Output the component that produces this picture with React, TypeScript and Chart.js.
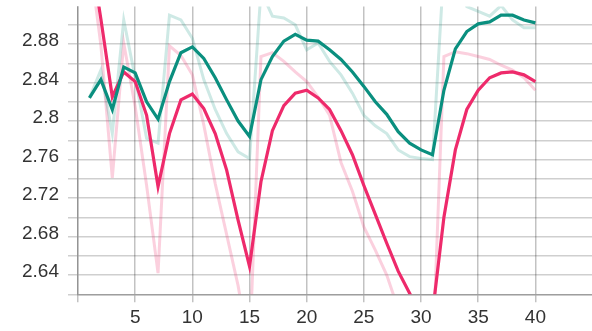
import React, { useEffect, useRef } from "react";
import { Chart, registerables } from "chart.js";

Chart.register(...registerables);

const steps = [1, 2, 3, 4, 5, 6, 7, 8, 9, 10, 11, 12, 13, 14, 15, 16, 17, 18, 19, 20, 21, 22, 23, 24, 25, 26, 27, 28, 29, 30, 31, 32, 33, 34, 35, 36, 37, 38, 39, 40];

const tealSmooth = [2.824, 2.843, 2.812, 2.856, 2.850, 2.820, 2.802, 2.841, 2.871, 2.877, 2.865, 2.845, 2.822, 2.800, 2.784, 2.843, 2.867, 2.883, 2.890, 2.884, 2.883, 2.874, 2.864, 2.851, 2.836, 2.820, 2.807, 2.789, 2.777, 2.770, 2.765, 2.832, 2.875, 2.893, 2.901, 2.903, 2.910, 2.910, 2.905, 2.902];
const tealRaw = [2.824, 2.853, 2.787, 2.905, 2.845, 2.782, 2.777, 2.910, 2.905, 2.886, 2.843, 2.812, 2.787, 2.768, 2.761, 2.935, 2.909, 2.907, 2.900, 2.874, 2.881, 2.862, 2.848, 2.829, 2.806, 2.795, 2.787, 2.770, 2.763, 2.761, 2.760, 2.960, 2.950, 2.919, 2.914, 2.909, 2.920, 2.905, 2.897, 2.897];
const pinkSmooth = [2.982, 2.906, 2.825, 2.851, 2.841, 2.806, 2.732, 2.787, 2.822, 2.828, 2.813, 2.787, 2.749, 2.697, 2.649, 2.737, 2.790, 2.816, 2.829, 2.832, 2.824, 2.812, 2.790, 2.765, 2.733, 2.703, 2.673, 2.644, 2.621, 2.598, 2.600, 2.700, 2.770, 2.812, 2.832, 2.845, 2.850, 2.851, 2.848, 2.841];
const pinkRaw = [2.970, 2.879, 2.741, 2.881, 2.815, 2.733, 2.642, 2.878, 2.868, 2.848, 2.796, 2.735, 2.682, 2.629, 2.560, 2.867, 2.871, 2.862, 2.851, 2.841, 2.825, 2.806, 2.757, 2.727, 2.690, 2.666, 2.640, 2.605, 2.580, 2.560, 2.550, 2.867, 2.872, 2.870, 2.867, 2.864, 2.858, 2.853, 2.845, 2.832];

const xTickValues = [0, 5, 10, 15, 20, 25, 30, 35, 40];
const xTickLabels = ["", "5", "10", "15", "20", "25", "30", "35", "40"];
const yTickValues = [2.62, 2.64, 2.66, 2.68, 2.70, 2.72, 2.74, 2.76, 2.78, 2.80, 2.82, 2.84, 2.86, 2.88, 2.90];
const yTickLabels = ["", "2.64", "", "2.68", "", "2.72", "", "2.76", "", "2.8", "", "2.84", "", "2.88", ""];

const toPoints = (vals: number[]) => vals.map((v, i) => ({ x: steps[i], y: v }));

export default function App() {
  const ref = useRef<HTMLCanvasElement | null>(null);
  useEffect(() => {
    document.body.style.margin = "0";
    if (!ref.current) return;
    const font = { family: "'Liberation Sans', Arial, sans-serif", size: 19 };
    const chart = new Chart(ref.current, {
      type: "line",
      data: {
        datasets: [
          { label: "teal smoothed", data: toPoints(tealSmooth), borderColor: "#0a8f7f", borderWidth: 3.2, pointRadius: 0, tension: 0 },
          { label: "pink smoothed", data: toPoints(pinkSmooth), borderColor: "#ee2a6b", borderWidth: 3.2, pointRadius: 0, tension: 0 },
          { label: "teal raw", data: toPoints(tealRaw), borderColor: "rgba(10,143,127,0.2)", borderWidth: 3, pointRadius: 0, tension: 0 },
          { label: "pink raw", data: toPoints(pinkRaw), borderColor: "rgba(238,42,107,0.22)", borderWidth: 3, pointRadius: 0, tension: 0 },
        ],
      },
      options: {
        animation: false,
        responsive: false,
        layout: { padding: { top: 6.5, left: 0, right: 0, bottom: 0 } },
        plugins: { legend: { display: false }, tooltip: { enabled: false } },
        scales: {
          x: {
            type: "linear",
            min: 0,
            max: 44.95,
            afterBuildTicks: (s: any) => { s.ticks = xTickValues.map((v) => ({ value: v })); },
            afterFit: (s: any) => { s.height = 36.7; s.paddingLeft = 0; s.paddingRight = 0; },
            grid: { color: "rgba(0,0,0,0.24)", lineWidth: 1.5, tickLength: 8 },
            border: { color: "rgba(0,0,0,0.24)", width: 1.5 },
            ticks: {
              font,
              color: "#333",
              padding: 4,
              maxRotation: 0,
              autoSkip: false,
              callback: (v: any) => { const i = xTickValues.indexOf(Number(v)); return i >= 0 ? xTickLabels[i] : ""; },
            },
          },
          y: {
            type: "linear",
            min: 2.62,
            max: 2.919,
            afterBuildTicks: (s: any) => { s.ticks = yTickValues.map((v) => ({ value: v })); },
            afterFit: (s: any) => { s.width = 78; s.paddingTop = 0; s.paddingBottom = 0; },
            grid: { color: "rgba(0,0,0,0.19)", lineWidth: 1.5, tickLength: 10 },
            border: { color: "rgba(0,0,0,0.24)", width: 1.5 },
            ticks: {
              font,
              color: "#333",
              padding: 9,
              labelOffset: -3,
              autoSkip: false,
              callback: (v: any, idx: number) => yTickLabels[idx] ?? "",
            },
          },
        },
      },
    });
    return () => chart.destroy();
  }, []);
  return (
    <div style={{ position: "absolute", left: 0, top: 0, width: 592, height: 331 }}>
      <canvas ref={ref} width={592} height={331} style={{ width: 592, height: 331, display: "block" }} />
    </div>
  );
}
